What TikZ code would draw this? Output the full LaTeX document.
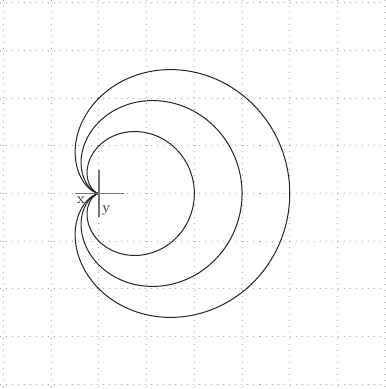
\documentclass[tikz,border=0pt]{standalone}
\begin{document}
\begin{tikzpicture}[x=1cm,y=1cm,
  gridline/.style={gray!70,line width=0.6pt,dash pattern=on 0.6pt off 3.0pt},
  curve/.style={black!85,line width=0.6pt},
  axisline/.style={gray!90!black,line width=0.7pt},
  lbl/.style={font=\fontsize{9}{9}\selectfont,inner sep=0pt,text=black!80}]
\useasboundingbox (-2.075,-4.099) rectangle (6.017,4.057);
\fill[white] (-2.075,-4.099) rectangle (6.017,4.057);
\foreach \i in {-2,...,6} \draw[gridline] (\i,4.057) -- (\i,-4.099);
\foreach \j in {-4,...,4} \draw[gridline] (-2.075,\j) -- (6.017,\j);
\foreach \a in {1,1.5,2}
  \draw[curve] plot[domain=0:360,samples=241,smooth]
    ({\a*(1+cos(\x))*cos(\x)},{\a*(1+cos(\x))*sin(\x)});
\coordinate (o) at (0,0);
\coordinate (xa) at (-0.5,0);
\coordinate (xb) at (0.52,0);
\coordinate (ya) at (0,0.49);
\coordinate (yb) at (0,-0.49);
\draw[axisline] (xa) -- (xb);
\draw[axisline] (ya) -- (yb);
\node[lbl] (xl) at (-0.38,-0.15) {x};
\node[lbl] (yl) at (0.15,-0.37) {y};
\end{tikzpicture}
\end{document}
